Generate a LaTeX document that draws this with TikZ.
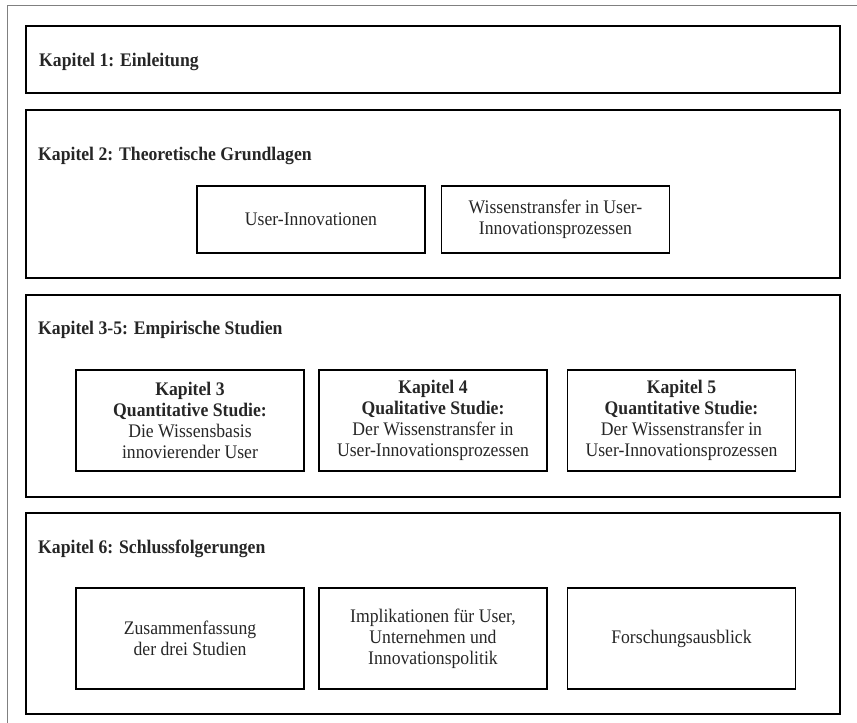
\documentclass[tikz,border=0pt]{standalone}
\usepackage{fontspec}
\setmainfont[FakeStretch=0.92]{Liberation Serif}

\begin{document}
\begin{tikzpicture}[x=1pt,y=-1pt,
    partbox/.style={draw, line width=1.8pt},
    subbox/.style={draw, line width=1.4pt, minimum width=228pt, inner sep=0pt, align=center,
        text=black!85, font=\fontsize{19.2}{21}\selectfont},
    chaptitle/.style={anchor=west, inner sep=0pt, text=black!85, font=\fontsize{19.2}{21}\selectfont\bfseries}]
    \useasboundingbox (0,0) rectangle (857,723);

    \draw[gray, line width=0.8pt] (7,723) -- (7,5) -- (857,5);

    \foreach \ya/\yb in {26/93,110/278,295/497,513/714}
        \draw[partbox] (26,\ya) rectangle (840,\yb);

    \node[chaptitle] (t1) at (39,62) {Kapitel 1: Einleitung};
    \node[chaptitle] (t2) at (38,156) {Kapitel 2: Theoretische Grundlagen};
    \node[chaptitle] (t3) at (38,330) {Kapitel 3-5: Empirische Studien};
    \node[chaptitle] (t4) at (38,549) {Kapitel 6: Schlussfolgerungen};

    % Kapitel 2
    \node[subbox, minimum height=67pt] (ui) at (311,219.5) {User-Innovationen};
    \node[subbox, minimum height=67pt] (wt) at (555.5,219.5) {Wissenstransfer in User-\\Innovationsprozessen};

    % Kapitel 3-5
    \node[subbox, minimum height=101pt] (k3) at (190,420.5)
        {\textbf{Kapitel 3}\\\textbf{Quantitative Studie:}\\Die Wissensbasis\\innovierender User};
    \node[subbox, minimum height=101pt] (k4) at (433,420.5)
        {\textbf{Kapitel 4}\\\textbf{Qualitative Studie:}\\Der Wissenstransfer in\\User-Innovationsprozessen};
    \node[subbox, minimum height=101pt] (k5) at (681.5,420.5)
        {\textbf{Kapitel 5}\\\textbf{Quantitative Studie:}\\Der Wissenstransfer in\\User-Innovationsprozessen};

    % Kapitel 6
    \node[subbox, minimum height=101pt] (zf) at (190,638.5) {Zusammenfassung\\der drei Studien};
    \node[subbox, minimum height=101pt] (im) at (433,638.5) {Implikationen für User,\\Unternehmen und\\Innovationspolitik};
    \node[subbox, minimum height=101pt] (fa) at (681.5,638.5) {Forschungsausblick};
\end{tikzpicture}
\end{document}
